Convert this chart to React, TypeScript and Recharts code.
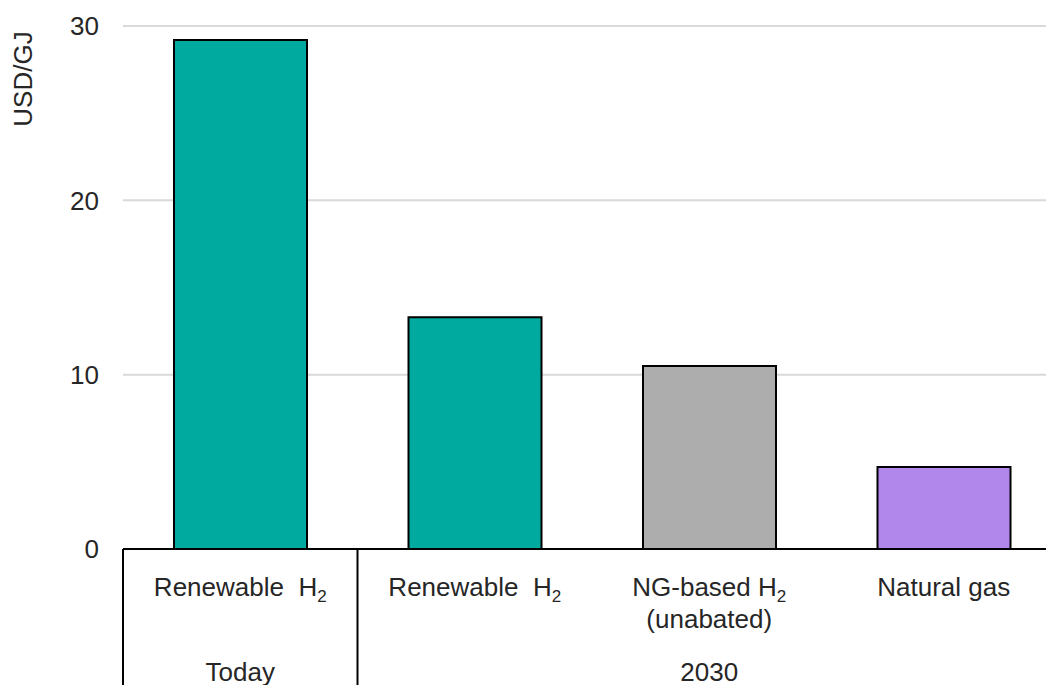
import React from "react";
import { BarChart, Bar, XAxis, YAxis, CartesianGrid, Cell } from "recharts";

const categories = ["renewable-today", "renewable-2030", "ng-2030", "gas-2030"];
const labelLines = [
  [["Renewable\u00a0\u00a0H", "2"]],
  [["Renewable\u00a0\u00a0H", "2"]],
  [["NG-based H", "2"], ["(unabated)", ""]],
  [["Natural gas", ""]],
];
const groupLabels = ["Today", "2030"];
const groupStart = [0, 1];
const groupCenter = [0, 2];
const costs = [29.2, 13.3, 10.5, 4.7];
const yTicks = [0, 10, 20, 30];
const yTitle = "USD/GJ";
const barColors = ["#00aa9e", "#00aa9e", "#adadad", "#b187ec"];

const data = categories.map((c, i) => ({ key: c, cost: costs[i] }));

const W = 1080;
const H = 685;
const M = { top: 26, right: 19, left: 0, bottom: 0 };
const Y_W = 123;
const X_H = 136;
const band = (W - M.right - Y_W) / categories.length;
const FONT = "'Liberation Sans', Arial, sans-serif";
const INK = "#262626";
const FS = 26;

function XTick(props: any) {
  const { x, y, index } = props;
  const lines = labelLines[index];
  const gi = groupStart.indexOf(index);
  const ci = groupCenter.indexOf(index);
  return (
    <g>
      {lines.map(([main, sub], k) => (
        <text
          key={k}
          x={x}
          y={y + 47 + k * 32}
          textAnchor="middle"
          fontSize={FS}
          fontFamily={FONT}
          fill={INK}
        >
          {main}
          {sub ? (
            <tspan fontSize={17} dy={6}>
              {sub}
            </tspan>
          ) : null}
        </text>
      ))}
      {gi >= 0 && (
        <line x1={x - band / 2} x2={x - band / 2} y1={y} y2={y + X_H} stroke="#000" strokeWidth={2} />
      )}
      {ci >= 0 && (
        <text x={x} y={y + 132} textAnchor="middle" fontSize={FS} fontFamily={FONT} fill={INK}>
          {groupLabels[ci]}
        </text>
      )}
    </g>
  );
}

function YTick(props: any) {
  const { x, y, payload } = props;
  return (
    <text x={x} y={y} dy="0.36em" textAnchor="end" fontSize={FS} fontFamily={FONT} fill={INK}>
      {payload.value}
    </text>
  );
}

function YTitle(props: any) {
  const vb = props.viewBox || { x: 0, y: 0 };
  const cx = vb.x + 23;
  const cy = vb.y + 53;
  return (
    <text
      transform={`translate(${cx},${cy}) rotate(-90)`}
      textAnchor="middle"
      dy="0.36em"
      fontSize={FS}
      fontFamily={FONT}
      fill={INK}
    >
      {yTitle}
    </text>
  );
}

export default function App() {
  return (
    <div
      style={{
        position: "absolute",
        left: 0,
        top: 0,
        width: 1046,
        height: 685,
        overflow: "hidden",
        background: "#fff",
      }}
    >
      <BarChart width={W} height={H} data={data} margin={M} barSize={133}>
        <CartesianGrid vertical={false} stroke="#d9d9d9" strokeWidth={2} />
        <XAxis
          dataKey="key"
          height={X_H}
          tick={<XTick />}
          tickLine={false}
          tickSize={0}
          tickMargin={0}
          interval={0}
          axisLine={{ stroke: "#000", strokeWidth: 2 }}
        />
        <YAxis
          width={Y_W}
          domain={[0, 30]}
          ticks={yTicks}
          tick={<YTick />}
          tickLine={false}
          tickSize={0}
          tickMargin={24}
          axisLine={false}
          label={{ content: (p: any) => <YTitle {...p} /> }}
        />
        <Bar dataKey="cost" stroke="#000" strokeWidth={2} isAnimationActive={false}>
          {data.map((d, i) => (
            <Cell key={d.key} fill={barColors[i]} />
          ))}
        </Bar>
      </BarChart>
    </div>
  );
}
